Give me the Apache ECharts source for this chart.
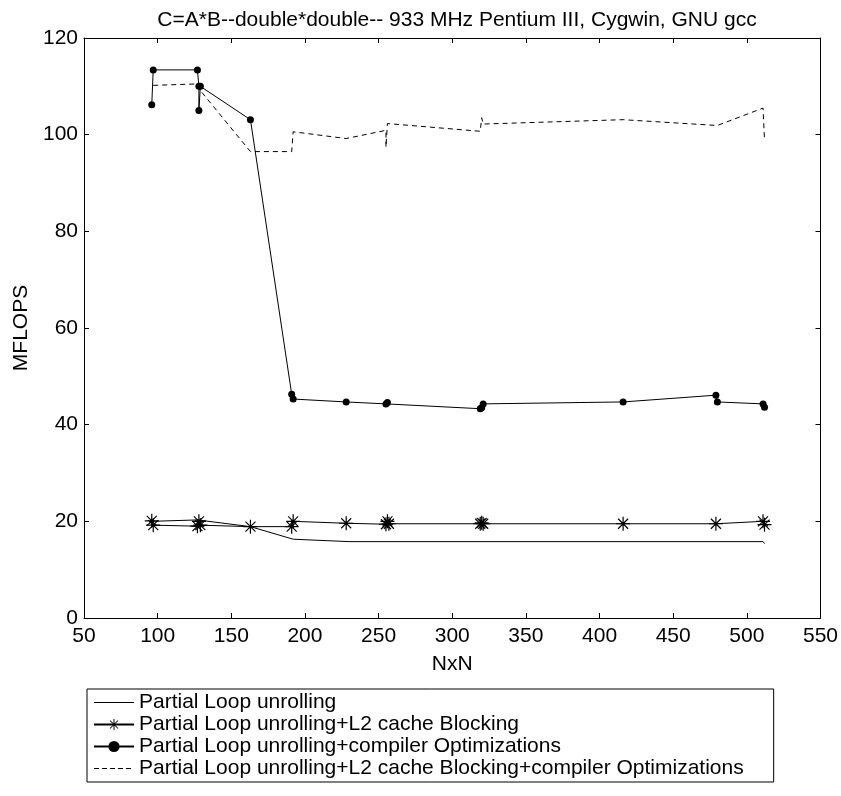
<!DOCTYPE html>
<html>
<head>
<meta charset="utf-8">
<script src="https://cdn.jsdelivr.net/npm/echarts@6/dist/echarts.min.js"></script>
<style>
html,body{margin:0;padding:0;background:#fff;}
#chart{width:841px;height:796px;}
</style>
</head>
<body>
<div id="chart"></div>
<script>
const titleText = 'C=A*B--double*double-- 933 MHz Pentium III, Cygwin, GNU gcc';
const seriesNames = [
  'Partial Loop unrolling',
  'Partial Loop unrolling+L2 cache Blocking',
  'Partial Loop unrolling+compiler Optimizations',
  'Partial Loop unrolling+L2 cache Blocking+compiler Optimizations'
];
// Partial Loop unrolling
const s1N = [96, 128, 132, 163, 192, 230, 511, 512];
const s1V = [20.0, 20.3, 20.1, 18.9, 16.3, 15.8, 15.8, 15.4];
// + L2 cache blocking
const s2N = [96, 97, 127, 128, 129, 163, 191, 192, 228, 255, 256, 257, 319, 320, 321, 416, 479, 511, 512];
const s2V = [20.1, 19.2, 19.0, 20.0, 19.2, 18.9, 18.9, 20.0, 19.6, 19.4, 20.0, 19.5, 19.5, 19.7, 19.5, 19.5, 19.5, 20.0, 19.3];
// + compiler optimizations
const s3N = [96, 97, 127, 128, 128, 129, 163, 191, 192, 228, 255, 256, 319, 320, 321, 416, 479, 480, 511, 512];
const s3V = [106.2, 113.4, 113.4, 110.0, 105.0, 110.0, 103.1, 46.3, 45.3, 44.7, 44.3, 44.6, 43.3, 43.5, 44.3, 44.7, 46.1, 44.7, 44.3, 43.6];
// + L2 cache blocking + compiler optimizations
const s4N = [97, 127, 128, 163, 191, 192, 228, 255, 255, 256, 319, 320, 321, 416, 480, 511, 512];
const s4V = [110.2, 110.5, 109.5, 96.5, 96.5, 100.6, 99.2, 100.9, 97.4, 102.3, 100.7, 103.5, 102.2, 103.1, 101.9, 105.5, 99.0];

const xMin = 50, xMax = 550, xStep = 50;
const yMin = 0, yMax = 120, yStep = 20;

function zip(a, b) { return a.map((v, i) => [v, b[i]]); }

const FONT = '"Liberation Sans", Arial, Helvetica, sans-serif';
const FS = 21;
const starPath = 'path://M-0.6,-7L0.6,-7L0.6,7L-0.6,7Z M-7,-0.6L7,-0.6L7,0.6L-7,0.6Z M-5.4,-4.6L-4.6,-5.4L5.4,4.6L4.6,5.4Z M4.6,-5.4L5.4,-4.6L-4.6,5.4L-5.4,4.6Z';
const solidIcon = 'path://M0,0L40,0L40,1L0,1Z';
const dashedIcon = 'path://M0,0h5v1h-5z M8,0h5v1h-5z M16,0h5v1h-5z M24,0h5v1h-5z M32,0h5v1h-5z M40,0h0.01v1h-0.01z';

const chart = echarts.init(document.getElementById('chart'), null, {renderer: 'canvas'});
const axisCommonX = {
  type: 'value', min: xMin, max: xMax, interval: xStep,
  axisLine: {show: true, onZero: false, lineStyle: {color: '#000', width: 1}},
  axisTick: {show: true, inside: true, length: 5, lineStyle: {color: '#000'}},
  splitLine: {show: false}
};
const axisCommonY = {
  type: 'value', min: yMin, max: yMax, interval: yStep,
  axisLine: {show: true, onZero: false, lineStyle: {color: '#000', width: 1}},
  axisTick: {show: true, inside: true, length: 5, lineStyle: {color: '#000'}},
  splitLine: {show: false}
};

chart.setOption({
  animation: false,
  backgroundColor: '#fff',
  textStyle: {fontFamily: FONT},
  title: {
    text: titleText, left: 452, top: 5, textAlign: 'center',
    textStyle: {fontFamily: FONT, fontSize: FS, fontWeight: 'normal', color: '#000'}
  },
  grid: {left: 84, right: 20, top: 38, bottom: 178, containLabel: false},
  xAxis: [
    Object.assign({}, axisCommonX, {
      position: 'bottom', name: 'NxN', nameLocation: 'middle', nameGap: 36,
      nameTextStyle: {fontFamily: FONT, fontSize: FS, color: '#000'},
      axisLabel: {show: true, margin: 8, fontFamily: FONT, fontSize: FS, color: '#000'}
    }),
    Object.assign({}, axisCommonX, {position: 'top', axisLabel: {show: false}})
  ],
  yAxis: [
    Object.assign({}, axisCommonY, {
      position: 'left', name: 'MFLOPS', nameLocation: 'middle', nameGap: 51, nameRotate: 90,
      nameTextStyle: {fontFamily: FONT, fontSize: FS, color: '#000'},
      axisLabel: {show: true, margin: 6, fontFamily: FONT, fontSize: FS, color: '#000'}
    }),
    Object.assign({}, axisCommonY, {position: 'right', axisLabel: {show: false}})
  ],
  legend: {
    orient: 'vertical', left: 87, top: 689,
    data: [
      {name: seriesNames[0], icon: solidIcon},
      {name: seriesNames[1]},
      {name: seriesNames[2]},
      {name: seriesNames[3], icon: dashedIcon}
    ],
    borderColor: '#000', borderWidth: 1, borderRadius: 0,
    padding: [3, 30, 3, 6], itemGap: 1, itemWidth: 40, itemHeight: 14,
    textStyle: {fontFamily: FONT, fontSize: FS, color: '#000', padding: [0, 0, 0, 0]},
    selectedMode: false
  },
  series: [
    {
      name: seriesNames[0], type: 'line', data: zip(s1N, s1V),
      symbol: 'none', lineStyle: {color: '#000', width: 1}, itemStyle: {color: '#000'}
    },
    {
      name: seriesNames[1], type: 'line', data: zip(s2N, s2V),
      symbol: starPath, symbolSize: 14,
      lineStyle: {color: '#000', width: 1}, itemStyle: {color: '#000'}
    },
    {
      name: seriesNames[2], type: 'line', data: zip(s3N, s3V),
      symbol: 'circle', symbolSize: 7,
      lineStyle: {color: '#000', width: 1}, itemStyle: {color: '#000'}
    },
    {
      name: seriesNames[3], type: 'line', data: zip(s4N, s4V),
      symbol: 'none', lineStyle: {color: '#000', width: 1, type: [5, 4]}, itemStyle: {color: '#000'}
    }
  ]
});
</script>
</body>
</html>
